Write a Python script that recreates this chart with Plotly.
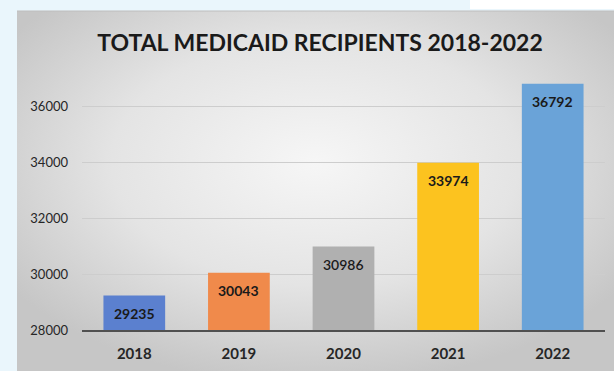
import base64
import plotly.graph_objects as go

years = ["2018", "2019", "2020", "2021", "2022"]
recipients = [29235, 30043, 30986, 33974, 36792]
bar_colors = ["#5b80cf", "#f08a4b", "#b0b0b0", "#fcc31f", "#6aa3d8"]
label_weights = [700, 700, 600, 700, 700]
y_ticks = [28000, 30000, 32000, 34000, 36000]
title_text = "TOTAL MEDICAID RECIPIENTS 2018-2022"

W, H = 614, 371
ML, MR, MT, MB = 82, 9, 50, 41
pw, ph = W - ML - MR, H - MT - MB


def px_x(p):
    return (p - ML) / pw


def px_y(p):
    return (H - MB - p) / ph


svg = (
    '<svg xmlns="http://www.w3.org/2000/svg" width="597" height="360" '
    'preserveAspectRatio="none" viewBox="0 0 597 360">'
    '<defs><radialGradient id="g" cx="0.5" cy="0.42" r="0.62">'
    '<stop offset="0" stop-color="#f6f6f6"/>'
    '<stop offset="0.55" stop-color="#e4e4e4"/>'
    '<stop offset="1" stop-color="#c6c6c6"/>'
    '</radialGradient></defs>'
    '<rect width="597" height="360" fill="url(#g)"/></svg>'
)
src = "data:image/svg+xml;base64," + base64.b64encode(svg.encode()).decode()

fig = go.Figure()
fig.add_trace(go.Bar(
    x=years, y=recipients,
    marker=dict(color=bar_colors, line=dict(width=0)),
    hoverinfo="x+y",
))

for i, (v, wgt) in enumerate(zip(recipients, label_weights)):
    fig.add_annotation(
        x=i, y=v, xref="x", yref="y", text=str(v), showarrow=False,
        yanchor="middle", yshift=-18,
        font=dict(family="Lato", size=14, color="#1a1a1a", weight=wgt),
    )

fig.update_layout(
    width=W, height=H,
    margin=dict(l=ML, r=MR, t=MT, b=MB),
    paper_bgcolor="#eaf6fc",
    plot_bgcolor="rgba(0,0,0,0)",
    bargap=0.41,
    showlegend=False,
    title=dict(
        text=title_text, x=320 / W, xanchor="center",
        y=1 - 43 / H, yanchor="middle", yref="container",
        font=dict(family="Lato", size=23, color="#1a1a1a", weight=700),
    ),
    xaxis=dict(
        type="category", categoryorder="array", categoryarray=years,
        range=[-0.5, len(years) - 0.5], autorange=False,
        showgrid=False, showline=True, linecolor="#505050", linewidth=1.5,
        ticks="", ticklabelstandoff=9,
        tickfont=dict(family="Lato", size=15, color="#262626", weight=700),
        fixedrange=True,
    ),
    yaxis=dict(
        range=[28000, 38000], autorange=False,
        tickvals=y_ticks, ticktext=[str(t) for t in y_ticks],
        showgrid=True, gridcolor="#cdcdcd", gridwidth=1,
        zeroline=False, showline=False, ticks="", ticklabelstandoff=13,
        tickfont=dict(family="Lato", size=13, color="#262626"),
        fixedrange=True,
    ),
    images=[dict(
        source=src, xref="paper", yref="paper",
        x=px_x(17), y=px_y(11), sizex=px_x(W) - px_x(17), sizey=px_y(11) - px_y(H),
        xanchor="left", yanchor="top", sizing="stretch", layer="below",
    )],
    shapes=[
        dict(type="rect", xref="paper", yref="paper",
             x0=px_x(470), x1=px_x(W + 5), y0=px_y(9), y1=px_y(-5),
             fillcolor="#ffffff", line=dict(width=0), layer="below"),
        dict(type="line", xref="paper", yref="paper",
             x0=px_x(17), x1=px_x(W), y0=px_y(11), y1=px_y(11),
             line=dict(color="#bdbdbd", width=1.2), layer="below"),
    ],
)

fig.write_html("out.html")
